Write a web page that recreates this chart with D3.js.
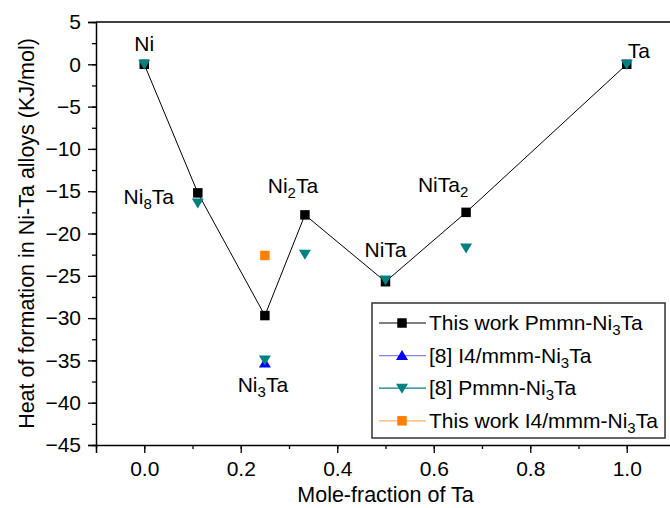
<!DOCTYPE html>
<html><head><meta charset="utf-8">
<script src="https://cdnjs.cloudflare.com/ajax/libs/d3/7.8.5/d3.min.js"></script>
<style>body{margin:0;background:#fff}svg{display:block;font-family:"Liberation Sans",Arial,sans-serif}</style>
</head><body><svg id="c" width="670" height="508"></svg>
<script>
const moleFraction = [0, 0.111, 0.25, 0.333, 0.5, 0.667, 1.0];
const thisWorkPmmn = [0, -15.2, -29.7, -17.8, -25.7, -17.5, 0];
const ref8Pmmn = [0, -16.4, -34.95, -22.45, -25.5, -21.7, 0];
const ref8I4X = [0.25];
const ref8I4 = [-35.3];
const thisWorkI4X = [0.25];
const thisWorkI4 = [-22.6];
const xTicks = [0.0, 0.2, 0.4, 0.6, 0.8, 1.0];
const yTicks = [5, 0, -5, -10, -15, -20, -25, -30, -35, -40, -45];
const phaseLabels = [
  {x: 0, y: 0, parts: [["Ni"]]},
  {x: 0.111, y: -15.2, parts: [["Ni"], ["8", 1], ["Ta"]]},
  {x: 0.25, y: -35.3, parts: [["Ni"], ["3", 1], ["Ta"]]},
  {x: 0.333, y: -17.8, parts: [["Ni"], ["2", 1], ["Ta"]]},
  {x: 0.5, y: -25.7, parts: [["NiTa"]]},
  {x: 0.667, y: -17.5, parts: [["NiTa"], ["2", 1]]},
  {x: 1.0, y: 0, parts: [["Ta"]]}
];
const legendItems = [
  {parts: [["This work Pmmn-Ni"], ["3", 1], ["Ta"]], color: "#000000", line: "#000000", shape: "square"},
  {parts: [["[8] I4/mmm-Ni"], ["3", 1], ["Ta"]], color: "#0000ff", line: "#8080ff", shape: "up"},
  {parts: [["[8] Pmmn-Ni"], ["3", 1], ["Ta"]], color: "#008080", line: "#008080", shape: "down"},
  {parts: [["This work I4/mmm-Ni"], ["3", 1], ["Ta"]], color: "#ff8000", line: "#ffb366", shape: "square"}
];
// label pixel offsets (layout only)
const labelPos = [[0,-13,"middle"],[-49,11,"middle"],[-2,29,"middle"],[-12,-22,"middle"],[0,-25,"middle"],[-23,-20,"middle"],[1,-6,"start"]];

const svg = d3.select("#c");
const L = 96, R = 675, T = 22, B = 445;
const x = d3.scaleLinear().domain([-0.1, 1.1]).range([L, R]);
const y = d3.scaleLinear().domain([-45, 5]).range([B, T]);

function addParts(t, parts, subSize) {
  parts.forEach(p => {
    const ts = t.append("tspan").text(p[0]);
    if (p[1]) { ts.attr("font-size", subSize).attr("dy", 5); }
    else if (t.node().childNodes.length > 1) {
      const prev = t.node().childNodes[t.node().childNodes.length - 2];
      if (prev.getAttribute("dy") === "5") ts.attr("dy", -5);
    }
  });
}

// axes
const xMinor = d3.range(-0.1, 1.11, 0.1).map(v => +v.toFixed(2));
const yMinor = d3.range(-45, 5.1, 2.5);
const gx = svg.append("g").attr("transform", `translate(0,${B})`);
gx.call(d3.axisBottom(x).tickValues(xMinor).tickSize(4).tickFormat(""));
gx.call(g => g.select(".domain").remove());
const gx2 = svg.append("g").attr("transform", `translate(0,${B})`)
  .call(d3.axisBottom(x).tickValues(xTicks).tickSize(8).tickPadding(8).tickFormat(d3.format(".1f")));
gx2.selectAll("text").attr("font-size", 21).attr("fill", "#000").attr("font-family", "Liberation Sans, Arial, sans-serif");
svg.selectAll("g line").attr("stroke", "#000").attr("stroke-width", 1.3);
gx2.select(".domain").attr("stroke-width", 1.5);

const gy = svg.append("g").attr("transform", `translate(${L},0)`);
gy.call(d3.axisLeft(y).tickValues(yMinor).tickSize(4).tickFormat(""));
gy.call(g => g.select(".domain").remove());
const gy2 = svg.append("g").attr("transform", `translate(${L},0)`)
  .call(d3.axisLeft(y).tickValues(yTicks).tickSize(8).tickPadding(7).tickFormat(d3.format("d")));
gy2.selectAll("text").attr("font-size", 21).attr("fill", "#000").attr("font-family", "Liberation Sans, Arial, sans-serif");
svg.selectAll("g line").attr("stroke", "#000").attr("stroke-width", 1.3);
gy2.select(".domain").attr("stroke-width", 1.5);
svg.selectAll(".domain").attr("stroke", "#000");

// top frame
svg.append("line").attr("x1", L).attr("x2", R).attr("y1", T).attr("y2", T).attr("stroke", "#000").attr("stroke-width", 1.5);

// titles
svg.append("text").attr("x", (x(0.0) + x(1.0)) / 2).attr("y", 502).attr("text-anchor", "middle")
  .attr("font-size", 21.5).text("Mole-fraction of Ta");
svg.append("text").attr("transform", `translate(34,${(T + B) / 2}) rotate(-90)`).attr("text-anchor", "middle")
  .attr("font-size", 21.5).text("Heat of formation in Ni-Ta alloys (KJ/mol)");

// symbols
const sq = d3.symbol().type(d3.symbolSquare).size(90);
const triUp = "M0,-5.5L6,4.5L-6,4.5Z";
const triDown = "M0,5.5L6,-4.5L-6,-4.5Z";

// black line + squares
const pts = moleFraction.map((m, i) => [m, thisWorkPmmn[i]]);
svg.append("path").datum(pts).attr("fill", "none").attr("stroke", "#000").attr("stroke-width", 1)
  .attr("d", d3.line().x(d => x(d[0])).y(d => y(d[1])));
svg.append("g").selectAll("path").data(pts).join("path")
  .attr("transform", d => `translate(${x(d[0])},${y(d[1])})`).attr("d", sq).attr("fill", "#000");

// blue up triangles
svg.append("g").selectAll("path").data(ref8I4X.map((m, i) => [m, ref8I4[i]])).join("path")
  .attr("transform", d => `translate(${x(d[0])},${y(d[1])})`).attr("d", triUp).attr("fill", "#0000ff");
// teal down triangles
svg.append("g").selectAll("path").data(moleFraction.map((m, i) => [m, ref8Pmmn[i]])).join("path")
  .attr("transform", d => `translate(${x(d[0])},${y(d[1])})`).attr("d", triDown).attr("fill", "#008080");
// orange squares
svg.append("g").selectAll("path").data(thisWorkI4X.map((m, i) => [m, thisWorkI4[i]])).join("path")
  .attr("transform", d => `translate(${x(d[0])},${y(d[1])})`).attr("d", sq).attr("fill", "#ff8000");

// phase labels
phaseLabels.forEach((p, i) => {
  const t = svg.append("text").attr("x", x(p.x) + labelPos[i][0]).attr("y", y(p.y) + labelPos[i][1])
    .attr("text-anchor", labelPos[i][2]).attr("font-size", 21);
  addParts(t, p.parts, 15);
});

// legend
const lg = svg.append("g");
lg.append("rect").attr("x", 372).attr("y", 303).attr("width", 293).attr("height", 135)
  .attr("fill", "#fff").attr("stroke", "#333").attr("stroke-width", 1.5);
legendItems.forEach((it, i) => {
  const cy = 323 + i * 32.6;
  lg.append("line").attr("x1", 379).attr("x2", 426).attr("y1", cy).attr("y2", cy).attr("stroke", it.line).attr("stroke-width", 1.2);
  const d = it.shape === "square" ? sq() : it.shape === "up" ? triUp : triDown;
  lg.append("path").attr("transform", `translate(402,${cy})`).attr("d", d).attr("fill", it.color);
  const t = lg.append("text").attr("x", 429).attr("y", cy + 7).attr("font-size", 21);
  addParts(t, it.parts, 15);
});
</script></body></html>
